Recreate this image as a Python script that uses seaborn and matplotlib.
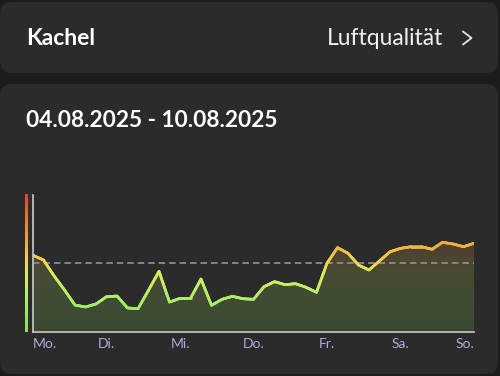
import matplotlib
matplotlib.use("Agg")
import matplotlib.pyplot as plt
import numpy as np
import pandas as pd
import seaborn as sns
from matplotlib.collections import LineCollection
from matplotlib.colors import LinearSegmentedColormap, Normalize
from matplotlib.patches import FancyBboxPatch
from matplotlib.lines import Line2D

# ---- data (7 readings per day, Mo. .. So.) ----
DAYS = ["Mo.", "Di.", "Mi.", "Do.", "Fr.", "Sa.", "So."]
READINGS_PER_DAY = 7
VALUES = [
    55.6, 52.2, 40.7, 30.3, 19.3, 17.9, 20.1,
    25.4, 25.9, 17.2, 16.6, 30.1, 43.9, 21.5,
    24.2, 24.2, 38.3, 19.1, 23.5, 25.7, 23.9,
    23.5, 32.7, 36.4, 34.2, 34.9, 32.3, 28.6,
    49.8, 61.2, 57.1, 48.5, 44.9, 51.5, 58.2,
    60.7, 61.9, 61.9, 60.0, 65.1, 63.9, 61.9,
    64.4,
]
THRESHOLD = 50
Y_MAX = 100
TITLE = "Kachel"
SUBJECT = "Luftqualität"
DATE_RANGE = "04.08.2025 - 10.08.2025"

BG = "#1c1c1c"
CARD = "#2b2b2b"
AXIS_GREY = "#cbcbcb"
TICK_COLOR = "#aeabdc"

cmap = LinearSegmentedColormap.from_list(
    "aq",
    [(0.0, "#86dc58"), (0.22, "#a8ee6a"), (0.42, "#dcec5c"),
     (0.52, "#f6cf50"), (0.62, "#f3b242"), (0.8, "#ee7d33"), (1.0, "#e4432a")],
)
norm = Normalize(0, Y_MAX)

df = pd.DataFrame({"day": np.arange(len(VALUES)) / READINGS_PER_DAY, "value": VALUES})

sns.set_theme(style="dark")
plt.rcParams["font.family"] = ["Lato", "DejaVu Sans"]

W, H = 500, 376
fig = plt.figure(figsize=(5, 3.76), dpi=100, facecolor=BG)


def fx(px):
    return px / W


def fy(py):
    return 1 - py / H


# cards
for top, bottom in [(2, 73), (84, 374)]:
    fig.patches.append(FancyBboxPatch(
        (fx(0), fy(bottom)), fx(498), (bottom - top) / H,
        boxstyle="round,pad=0,rounding_size=0.024", transform=fig.transFigure,
        facecolor=CARD, edgecolor="none", zorder=-5, mutation_aspect=W / H))

fig.text(fx(26), fy(45), TITLE, color="white", fontsize=16.5, fontweight="bold", va="baseline")
fig.text(fx(443), fy(45), SUBJECT, color="#f0f0f0", fontsize=16.5, ha="right", va="baseline")
fig.add_artist(Line2D([fx(463), fx(471.5), fx(463)], [fy(31.5), fy(38), fy(44.5)],
                      transform=fig.transFigure, color="#e6e6e6", lw=1.3))
fig.text(fx(26), fy(126.7), DATE_RANGE, color="white", fontsize=16.3, fontweight="bold",
         va="baseline")

# main chart
ax = fig.add_axes([fx(33), fy(331.5), fx(474 - 33), 137 / H], zorder=5)
ax.set_facecolor("none")
ax.set_xlim(0, len(DAYS) - 1)
ax.set_ylim(0, Y_MAX)

poly = ax.fill_between(df["day"], df["value"], 0, color="none", lw=0)
grad = np.linspace(0, Y_MAX, 256).reshape(-1, 1)
img = ax.imshow(grad, cmap=cmap, norm=norm, origin="lower", aspect="auto",
                extent=[0, len(DAYS) - 1, 0, Y_MAX], alpha=0.17, zorder=1)
img.set_clip_path(poly.get_paths()[0], transform=ax.transData)

ax.axhline(THRESHOLD, color="#8c8c8c", lw=1.3, ls=(0, (3.6, 2.2)), zorder=2)

sns.lineplot(data=df, x="day", y="value", ax=ax, color="#c8ec60", lw=1.9, zorder=3)

# colour the line by value
xs, ys = df["day"].to_numpy(), df["value"].to_numpy()
segs, cols = [], []
for i in range(len(xs) - 1):
    t = np.linspace(0, 1, 9)
    sx = xs[i] + (xs[i + 1] - xs[i]) * t
    sy = ys[i] + (ys[i + 1] - ys[i]) * t
    for j in range(len(t) - 1):
        segs.append([(sx[j], sy[j]), (sx[j + 1], sy[j + 1])])
        cols.append((sy[j] + sy[j + 1]) / 2)
lc = LineCollection(segs, cmap=cmap, norm=norm, lw=1.9, capstyle="round", zorder=4)
lc.set_array(np.array(cols))
ax.add_collection(lc)

for side in ["top", "right"]:
    ax.spines[side].set_visible(False)
for side in ["left", "bottom"]:
    ax.spines[side].set_visible(True)
    ax.spines[side].set_color(AXIS_GREY)
    ax.spines[side].set_linewidth(1.2)
    ax.spines[side].set_zorder(5)

ax.set_yticks([])
ax.set_xticks(range(len(DAYS)))
ax.set_xticklabels(DAYS, color=TICK_COLOR, fontsize=10)
ax.tick_params(axis="x", length=0, pad=5)
labels = ax.get_xticklabels()
labels[0].set_ha("left")
labels[-1].set_ha("right")
ax.set_xlabel("")
ax.set_ylabel("")
ax.grid(False)

# colour scale bar on the left
cax = fig.add_axes([fx(25), fy(331.5), fx(2.6), 138 / H], zorder=5)
cax.imshow(grad, cmap=cmap, norm=norm, origin="lower", aspect="auto")
cax.set_axis_off()

fig.savefig("out.png", dpi=100, facecolor=BG)
